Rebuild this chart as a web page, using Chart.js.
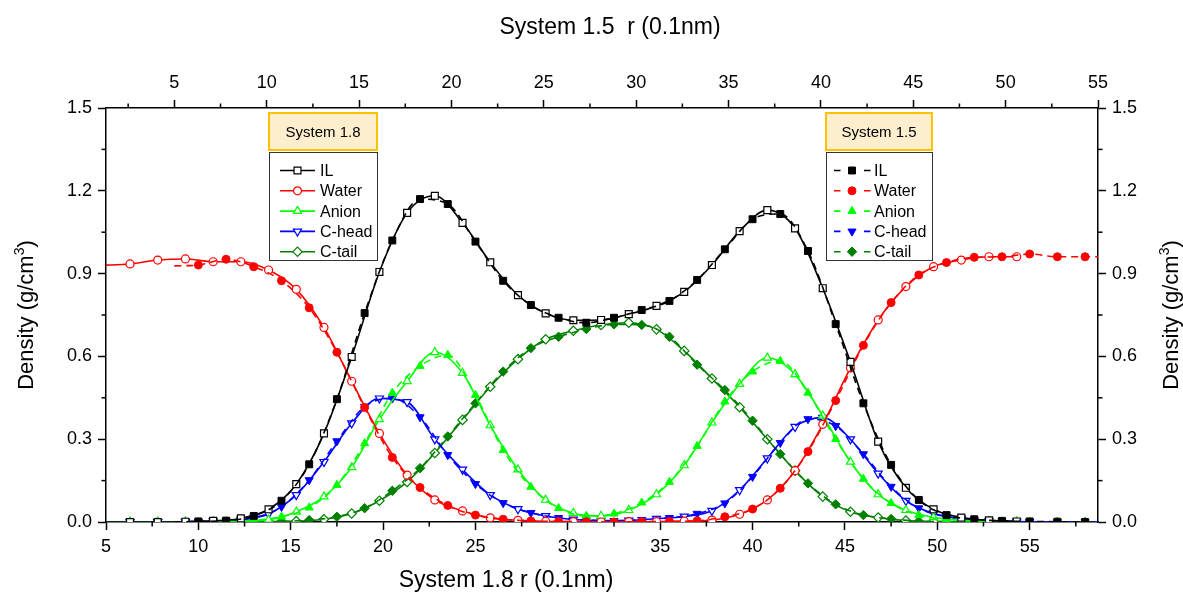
<!DOCTYPE html>
<html>
<head>
<meta charset="utf-8">
<title>Density profiles</title>
<script src="https://cdn.jsdelivr.net/npm/chart.js@4.4.1/dist/chart.umd.min.js"></script>
<style>
  html, body { margin: 0; padding: 0; background: #fff; }
  #wrap { width: 1183px; height: 593px; }
</style>
</head>
<body>
<div id="wrap"><canvas id="c" width="1183" height="593"></canvas></div>
<script>
const FONT = '"Liberation Sans", Arial, Helvetica, sans-serif';

// Sample positions r (0.1 nm); System 1.8 uses the bottom axis, System 1.5 the top axis
const r18 = [4.8, 6.3, 7.8, 9.3, 10.8, 12.3, 13.8, 15.3, 16.8, 18.3, 19.8, 21.3, 22.8, 24.3, 25.8, 27.3, 28.8,
             30.3, 31.8, 33.3, 34.8, 36.3, 37.8, 39.3, 40.8, 42.3, 43.8, 45.3, 46.8, 48.3, 49.8, 51.3, 52.8, 54.3];
const r15 = [5.0, 6.3, 7.8, 9.3, 10.8, 12.3, 13.8, 15.3, 16.8, 18.3, 19.8, 21.3, 22.8, 24.3, 25.8, 27.3, 28.8,
             30.3, 31.8, 33.3, 34.8, 36.3, 37.8, 39.3, 40.8, 42.3, 43.8, 45.3, 46.8, 48.3, 49.8, 51.3, 52.8, 54.3, 55.0];

// System 1.8 densities (g/cm3)
const il18    = [0, 0, 0, 0.001, 0.004, 0.013, 0.046, 0.137, 0.321, 0.598, 0.906, 1.12, 1.182, 1.084, 0.941, 0.822, 0.756,
                 0.731, 0.732, 0.753, 0.783, 0.834, 0.931, 1.054, 1.13, 1.064, 0.847, 0.58, 0.291, 0.124, 0.046, 0.016, 0.006, 0.002];
const water18 = [0.93, 0.935, 0.949, 0.953, 0.943, 0.943, 0.913, 0.843, 0.705, 0.51, 0.321, 0.17, 0.08, 0.04, 0.015, 0.006, 0.002,
                 0.001, 0, 0.001, 0.001, 0.003, 0.007, 0.028, 0.08, 0.186, 0.354, 0.558, 0.732, 0.853, 0.925, 0.949, 0.961, 0.961];
const anion18 = [0, 0, 0, 0, 0.001, 0.003, 0.008, 0.037, 0.092, 0.198, 0.372, 0.51, 0.615, 0.54, 0.35, 0.19, 0.08,
                 0.032, 0.022, 0.043, 0.1, 0.205, 0.36, 0.5, 0.595, 0.535, 0.385, 0.218, 0.1, 0.043, 0.017, 0.006, 0.002, 0.001];
const chead18 = [0, 0, 0, 0.001, 0.003, 0.008, 0.029, 0.098, 0.218, 0.358, 0.448, 0.435, 0.3, 0.19, 0.098, 0.047, 0.022,
                 0.009, 0.005, 0.006, 0.012, 0.02, 0.041, 0.116, 0.231, 0.345, 0.378, 0.3, 0.176, 0.077, 0.031, 0.013, 0.005, 0.002];
const ctail18 = [0, 0, 0, 0, 0, 0.001, 0.001, 0.003, 0.01, 0.031, 0.077, 0.145, 0.25, 0.37, 0.49, 0.59, 0.662,
                 0.693, 0.714, 0.722, 0.698, 0.62, 0.52, 0.416, 0.3, 0.186, 0.092, 0.037, 0.016, 0.005, 0.002, 0.001, 0, 0];

// System 1.5 densities (g/cm3)
const il15    = [0, 0.002, 0.005, 0.022, 0.077, 0.209, 0.445, 0.757, 1.02, 1.17, 1.152, 1.016, 0.874, 0.786, 0.74, 0.722, 0.74,
                 0.768, 0.801, 0.877, 0.988, 1.097, 1.116, 0.982, 0.717, 0.43, 0.207, 0.08, 0.025, 0.01, 0.004, 0.002, 0.001, 0, 0];
const water15 = [0.928, 0.931, 0.952, 0.925, 0.874, 0.776, 0.615, 0.415, 0.234, 0.125, 0.06, 0.025, 0.01, 0.004, 0.002, 0.001, 0,
                 0.001, 0.002, 0.004, 0.019, 0.047, 0.122, 0.255, 0.44, 0.64, 0.795, 0.895, 0.94, 0.959, 0.961, 0.971, 0.961, 0.961, 0.961];
const anion15 = [0, 0, 0.002, 0.006, 0.019, 0.052, 0.134, 0.285, 0.468, 0.565, 0.605, 0.46, 0.26, 0.127, 0.05, 0.022, 0.03,
                 0.07, 0.145, 0.275, 0.436, 0.545, 0.583, 0.468, 0.3, 0.156, 0.068, 0.025, 0.01, 0.004, 0.002, 0.001, 0, 0, 0];
const chead15 = [0, 0.001, 0.004, 0.016, 0.055, 0.152, 0.293, 0.418, 0.448, 0.38, 0.243, 0.138, 0.069, 0.033, 0.015, 0.007, 0.004,
                 0.008, 0.015, 0.03, 0.068, 0.164, 0.287, 0.373, 0.348, 0.246, 0.128, 0.05, 0.019, 0.007, 0.003, 0.001, 0, 0, 0];
const ctail15 = [0, 0, 0, 0.001, 0.002, 0.007, 0.019, 0.05, 0.113, 0.195, 0.31, 0.43, 0.545, 0.63, 0.671, 0.699, 0.716,
                 0.714, 0.671, 0.57, 0.478, 0.367, 0.246, 0.14, 0.064, 0.025, 0.011, 0.003, 0.001, 0, 0, 0, 0, 0, 0];

// Axis ticks
const xTickValues = [5, 10, 15, 20, 25, 30, 35, 40, 45, 50, 55];
const yTickValues = [0, 0.3, 0.6, 0.9, 1.2, 1.5];

const seriesNames = ['IL', 'Water', 'Anion', 'C-head', 'C-tail'];
const seriesColors = ['#000000', '#ff0000', '#00ff00', '#0000ff', '#008000'];
const markers = [
  { style: 'rect', rot: 0, r: 4.9 },
  { style: 'circle', rot: 0, r: 4.0 },
  { style: 'triangle', rot: 0, r: 4.7 },
  { style: 'triangle', rot: 180, r: 4.7 },
  { style: 'rectRot', rot: 0, r: 4.7 }
];
const values18 = [il18, water18, anion18, chead18, ctail18];
const values15 = [il15, water15, anion15, chead15, ctail15];

function pts(xs, ys) { return xs.map((x, i) => ({ x: x, y: ys[i] })); }

const datasets = [];
seriesNames.forEach((name, k) => {
  const m = markers[k], col = seriesColors[k];
  const nLast15 = r15.length - 1;
  datasets.push({
    label: name + ' (System 1.5)',
    data: pts(r15, values15[k]),
    xAxisID: 'x2', yAxisID: 'y',
    borderColor: col, borderWidth: 1.6, borderDash: [7, 5],
    pointStyle: m.style, rotation: m.rot,
    pointRadius: c => (c.dataIndex === 0 || c.dataIndex === nLast15) ? 0 : m.r,
    pointBackgroundColor: col, pointBorderColor: col, pointBorderWidth: 1,
    cubicInterpolationMode: 'monotone', fill: false
  });
  datasets.push({
    label: name + ' (System 1.8)',
    data: pts(r18, values18[k]),
    xAxisID: 'x', yAxisID: 'y',
    borderColor: col, borderWidth: 1.6,
    pointStyle: m.style, rotation: m.rot,
    pointRadius: c => c.dataIndex === 0 ? 0 : m.r,
    pointBackgroundColor: '#ffffff', pointBorderColor: col, pointBorderWidth: 1.2,
    cubicInterpolationMode: 'monotone', fill: false
  });
});

function axis(position, min, max, tickValues, fmt, size) {
  const horizontal = position === 'top' || position === 'bottom';
  return {
    type: 'linear', position: position, min: min, max: max,
    afterBuildTicks: s => { s.ticks = tickValues.map(v => ({ value: v })); },
    afterFit: s => { if (horizontal) s.height = size; else s.width = size; },
    ticks: { font: { family: FONT, size: 18 }, color: '#000', padding: 6, callback: fmt, maxRotation: 0, autoSkip: false },
    grid: { drawOnChartArea: false, drawTicks: true, tickLength: 8, tickWidth: 1.5, tickColor: '#000', color: '#000' },
    border: { display: true, color: '#000', width: 1.5 }
  };
}

function drawMarker(ctx, style, rot, r, x, y, stroke, fill, lw) {
  ctx.save();
  ctx.translate(x, y);
  ctx.rotate(rot * Math.PI / 180);
  ctx.beginPath();
  if (style === 'rect') {
    const s = r * Math.SQRT1_2;
    ctx.rect(-s, -s, 2 * s, 2 * s);
  } else if (style === 'circle') {
    ctx.arc(0, 0, r, 0, Math.PI * 2);
  } else if (style === 'triangle') {
    for (let i = 0; i < 3; i++) {
      const a = i * 2 * Math.PI / 3;
      const px = Math.sin(a) * r, py = -Math.cos(a) * r;
      if (i === 0) ctx.moveTo(px, py); else ctx.lineTo(px, py);
    }
    ctx.closePath();
  } else if (style === 'rectRot') {
    ctx.moveTo(-r, 0); ctx.lineTo(0, r); ctx.lineTo(r, 0); ctx.lineTo(0, -r); ctx.closePath();
  }
  ctx.fillStyle = fill; ctx.fill();
  ctx.lineWidth = lw; ctx.strokeStyle = stroke; ctx.stroke();
  ctx.restore();
}

// Two key boxes, each with a captioned header
function drawKey(ctx, box) {
  ctx.save();
  ctx.fillStyle = '#fdefce';
  ctx.fillRect(box.x, box.y, box.w, box.headH);
  ctx.strokeStyle = '#ffc000'; ctx.lineWidth = 2;
  ctx.strokeRect(box.x, box.y, box.w, box.headH);
  ctx.fillStyle = '#000';
  ctx.font = '15px ' + FONT;
  ctx.textAlign = 'center'; ctx.textBaseline = 'middle';
  ctx.fillText(box.title, box.x + box.w / 2, box.y + box.headH / 2 + 1);

  ctx.fillStyle = '#fff';
  ctx.fillRect(box.x, box.listY, box.w, box.listH);
  ctx.strokeStyle = '#333'; ctx.lineWidth = 1;
  ctx.strokeRect(box.x + 0.5, box.listY + 0.5, box.w, box.listH);

  ctx.font = '16px ' + FONT;
  ctx.textAlign = 'left';
  seriesNames.forEach((name, k) => {
    const y = box.firstY + k * box.rowH;
    const col = seriesColors[k], m = markers[k];
    ctx.strokeStyle = col; ctx.lineWidth = 1.6;
    ctx.beginPath();
    if (box.dashed) {
      ctx.moveTo(box.x + 8, y); ctx.lineTo(box.x + 14.5, y);
      ctx.moveTo(box.x + 38, y); ctx.lineTo(box.x + 44.5, y);
    } else {
      ctx.moveTo(box.x + 11, y); ctx.lineTo(box.x + 46, y);
    }
    ctx.stroke();
    const mx = box.dashed ? box.x + 26 : box.x + 28.5;
    drawMarker(ctx, m.style, m.rot, m.r, mx, y, col, box.dashed ? col : '#fff', box.dashed ? 1 : 1.2);
    ctx.fillStyle = '#000';
    ctx.fillText(name, box.textX, y + 1);
  });
  ctx.restore();
}

function drawDensityTitle(ctx, cx, cy) {
  const main = 'Density (g/cm', sup = '3', tail = ')';
  ctx.save();
  ctx.translate(cx, cy);
  ctx.rotate(-Math.PI / 2);
  ctx.fillStyle = '#000';
  ctx.textBaseline = 'alphabetic';
  ctx.textAlign = 'left';
  ctx.font = '22px ' + FONT;
  const w1 = ctx.measureText(main).width, w3 = ctx.measureText(tail).width;
  ctx.font = '14px ' + FONT;
  const w2 = ctx.measureText(sup).width;
  const total = w1 + w2 + w3;
  let x = -total / 2;
  const base = 8;
  ctx.font = '22px ' + FONT;
  ctx.fillText(main, x, base); x += w1;
  ctx.font = '14px ' + FONT;
  ctx.fillText(sup, x, base - 9); x += w2;
  ctx.font = '22px ' + FONT;
  ctx.fillText(tail, x, base);
  ctx.restore();
}

const decorations = {
  id: 'decorations',
  afterDraw(chart) {
    const ctx = chart.ctx;
    const area = chart.chartArea;
    // minor ticks, half-way between labelled ticks, pointing outward
    ctx.save();
    ctx.strokeStyle = '#000'; ctx.lineWidth = 1.5;
    [['x', 5, 'bottom'], ['x2', 5, 'top'], ['y', 0.3, 'left'], ['y2', 0.3, 'right']].forEach(([id, step, side]) => {
      const s = chart.scales[id];
      for (let v = Math.floor(s.min / step) * step + step / 2; v < s.max; v += step) {
        if (v <= s.min) continue;
        const p = s.getPixelForValue(v);
        ctx.beginPath();
        if (side === 'bottom') { ctx.moveTo(p, area.bottom); ctx.lineTo(p, area.bottom + 4.5); }
        if (side === 'top') { ctx.moveTo(p, area.top); ctx.lineTo(p, area.top - 4.5); }
        if (side === 'left') { ctx.moveTo(area.left, p); ctx.lineTo(area.left - 4.5, p); }
        if (side === 'right') { ctx.moveTo(area.right, p); ctx.lineTo(area.right + 4.5, p); }
        ctx.stroke();
      }
    });
    ctx.restore();

    // axis titles
    ctx.save();
    ctx.fillStyle = '#000';
    ctx.font = '23px ' + FONT;
    ctx.textAlign = 'center'; ctx.textBaseline = 'middle';
    ctx.fillText('System 1.5  r (0.1nm)', 610, 28);
    ctx.fillText('System 1.8 r (0.1nm)', 506, 581);
    ctx.restore();

    drawDensityTitle(ctx, 25, (area.top + area.bottom) / 2);
    drawDensityTitle(ctx, 1170, (area.top + area.bottom) / 2);

    drawKey(ctx, { x: 269, y: 113, w: 108, headH: 37, listY: 152, listH: 108, title: 'System 1.8',
                   firstY: 170.5, rowH: 20.3, textX: 320, dashed: false });
    drawKey(ctx, { x: 826, y: 113, w: 106, headH: 37, listY: 152, listH: 108, title: 'System 1.5',
                   firstY: 170.5, rowH: 20.3, textX: 874, dashed: true });
  }
};

const fmtX = v => String(v);
const fmtY = v => Number(v).toFixed(1);

new Chart(document.getElementById('c'), {
  type: 'line',
  data: { datasets: datasets },
  options: {
    responsive: false,
    animation: false,
    layout: { padding: 0 },
    plugins: { legend: { display: false }, tooltip: { enabled: false }, title: { display: false } },
    scales: {
      x: axis('bottom', 5, 58.7, xTickValues, fmtX, 71),
      x2: axis('top', 1.3, 55, xTickValues, fmtX, 108),
      y: axis('left', 0, 1.5, yTickValues, fmtY, 106),
      y2: axis('right', 0, 1.5, yTickValues, fmtY, 85)
    }
  },
  plugins: [decorations]
});
</script>
</body>
</html>
